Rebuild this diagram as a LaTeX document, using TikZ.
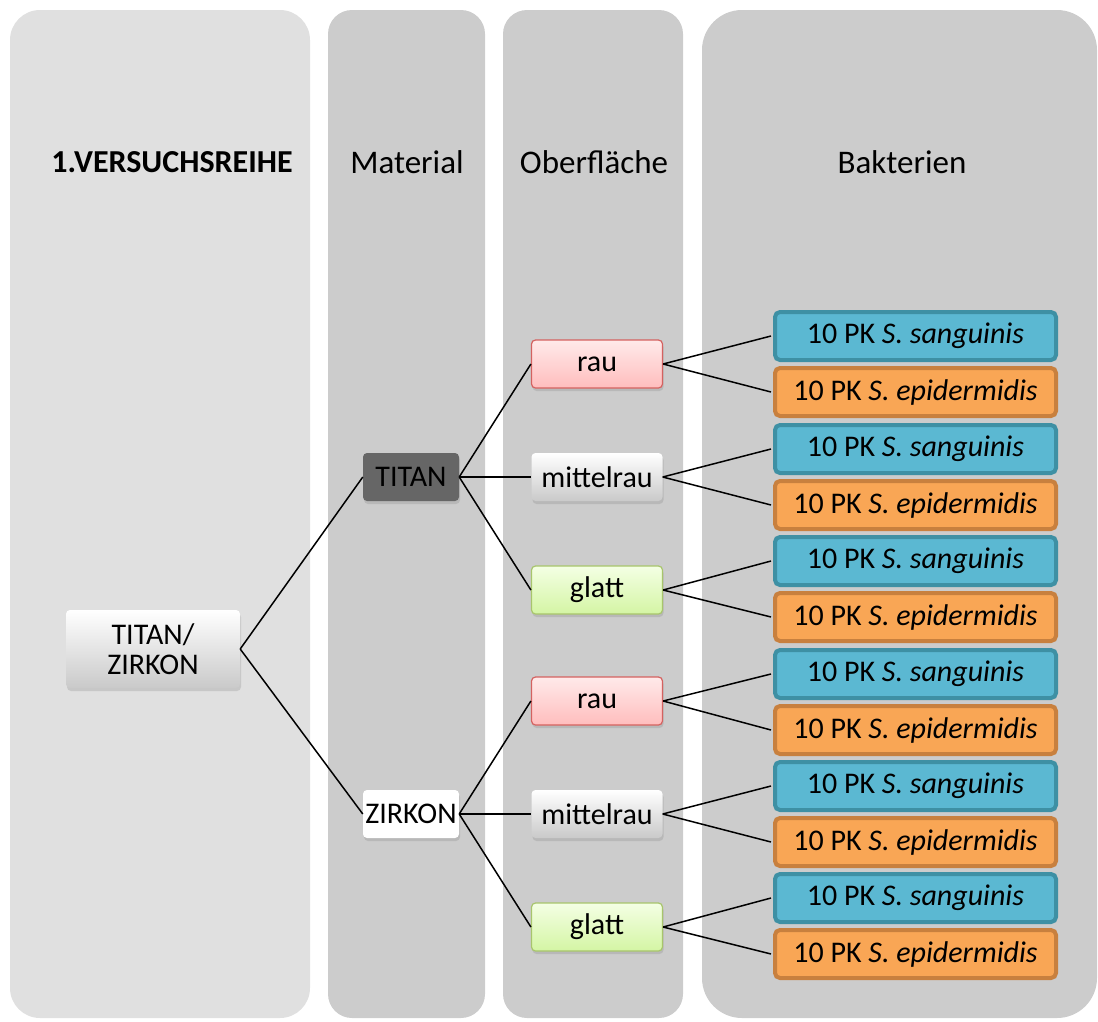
\documentclass[tikz,border=0pt]{standalone}
\usepackage{fontspec}
\setmainfont{Carlito}
\usetikzlibrary{shadows}
\definecolor{panelLight}{HTML}{E0E0E0}
\definecolor{panelGray}{HTML}{CCCCCC}
\definecolor{sangFill}{HTML}{5BB8D2}
\definecolor{sangLine}{HTML}{3E90A4}
\definecolor{epiFill}{HTML}{F9A655}
\definecolor{epiLine}{HTML}{C8803E}
\definecolor{rauTop}{HTML}{FFEAEA}
\definecolor{rauBot}{HTML}{FFBDBD}
\definecolor{rauLine}{HTML}{D46260}
\definecolor{glattTop}{HTML}{F4FFE4}
\definecolor{glattBot}{HTML}{D4F5A4}
\definecolor{glattLine}{HTML}{A8C56C}
\begin{document}
\begin{tikzpicture}[x=1pt,y=-1pt,
    txt/.style={font=\fontsize{30}{32}\selectfont},
    head/.style={font=\fontsize{33}{35}\selectfont},
    box/.style={txt,rounded corners=4pt,inner sep=0pt,minimum height=48pt,
      drop shadow={opacity=0.25,shadow xshift=1pt,shadow yshift=-3pt}},
    surf/.style={box,minimum width=131pt},
    rough/.style={surf,draw=rauLine,line width=1.2pt,top color=rauTop,bottom color=rauBot},
    medium/.style={surf,top color=white,bottom color=panelLight!90!black},
    smooth/.style={surf,draw=glattLine,line width=1.2pt,top color=glattTop,bottom color=glattBot},
    mat/.style={box,minimum width=96pt},
    bact/.style={txt,rounded corners=5pt,inner sep=0pt,minimum width=281pt,
      minimum height=48pt,line width=4pt},
    sang/.style={bact,draw=sangLine,fill=sangFill},
    epi/.style={bact,draw=epiLine,fill=epiFill}]
  \useasboundingbox (0,0) rectangle (1098,1021);
  % columns
  \fill[panelLight,rounded corners=30pt] (10,10) rectangle (310,1018);
  \fill[panelGray,rounded corners=24pt] (328,10) rectangle (485,1018);
  \fill[panelGray,rounded corners=24pt] (503,10) rectangle (683,1018);
  \fill[panelGray,rounded corners=40pt] (702,10) rectangle (1097,1018);
  \node[head,font=\fontsize{32}{34}\selectfont\bfseries] (h1) at (172,162) {1.VERSUCHSREIHE};
  \node[head] (h2) at (407,162) {Material};
  \node[head] (h3) at (594,162) {Oberfläche};
  \node[head] (h4) at (902,162) {Bakterien};
  % tree
  \node[box,minimum width=174pt,minimum height=78pt,align=center,
    top color=white,bottom color=panelLight!90!black] (root) at (153,649) {TITAN/\\[-2pt]ZIRKON};
  \node[mat,fill=black!60] (ti) at (411,477) {TITAN};
  \node[mat,fill=white] (zr) at (411,814) {ZIRKON};
  \node[rough] (ti1) at (597,364) {rau};
  \node[medium] (ti2) at (597,477) {mittelrau};
  \node[smooth] (ti3) at (597,590) {glatt};
  \node[rough] (zr1) at (597,701) {rau};
  \node[medium] (zr2) at (597,814) {mittelrau};
  \node[smooth] (zr3) at (597,927) {glatt};
  \foreach \n/\y in {ti1/336,ti2/449,ti3/561,zr1/674,zr2/786,zr3/898}{
    \node[sang] (\n a) at (915.5,\y) {10 PK \textit{S. sanguinis}};
    \node[epi] (\n b) at (915.5,\y+56) {10 PK \textit{S. epidermidis}};
  }
  \begin{scope}[-,line width=1.5pt]
    \draw (root.east) to (ti.west);
    \draw (root.east) to (zr.west);
    \foreach \m in {ti,zr}{
      \foreach \k in {1,2,3}{
        \draw (\m.east) to (\m\k.west);
        \draw (\m\k.east) to ([xshift=-2pt]\m\k a.west);
        \draw (\m\k.east) to ([xshift=-2pt]\m\k b.west);
      }
    }
  \end{scope}
\end{tikzpicture}
\end{document}
